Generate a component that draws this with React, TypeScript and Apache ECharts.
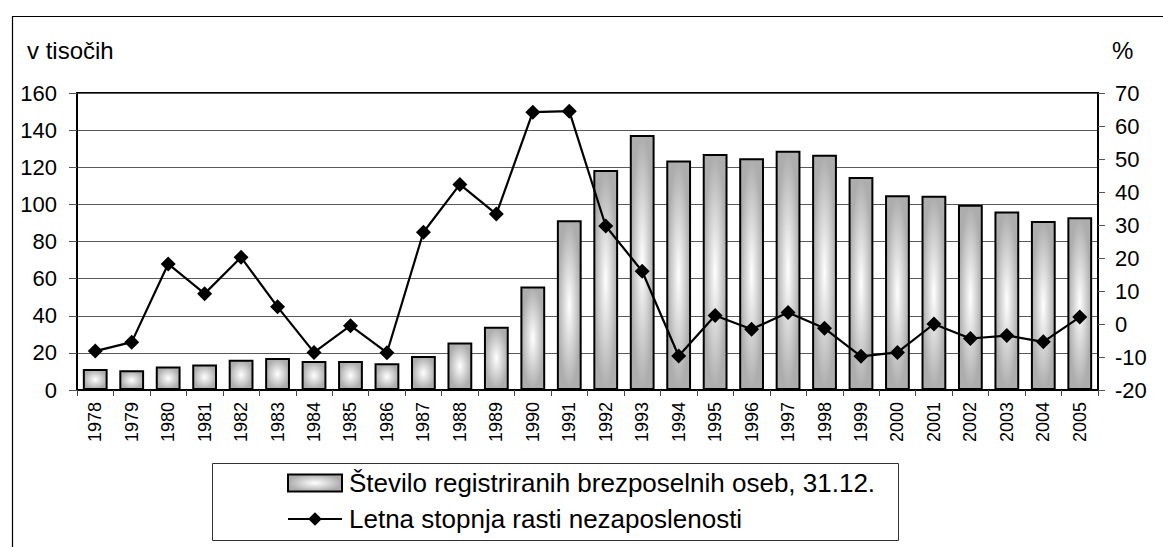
import React, { useEffect, useRef } from "react";
import * as echarts from "echarts";

const years = ["1978","1979","1980","1981","1982","1983","1984","1985","1986","1987","1988","1989","1990","1991","1992","1993","1994","1995","1996","1997","1998","1999","2000","2001","2002","2003","2004","2005"];
const unemployed = [11.3, 10.6, 12.6, 13.8, 16.3, 17.2, 15.6, 15.6, 14.4, 18.3, 25.6, 34.1, 55.7, 91.4, 118.5, 137.4, 123.7, 127.1, 124.8, 128.9, 126.8, 114.7, 104.9, 104.7, 99.8, 96.2, 91.0, 93.0];
const growthRate = [-8.2, -5.5, 18.2, 9.2, 20.2, 5.2, -8.6, -0.5, -8.7, 27.8, 42.3, 33.3, 64.2, 64.5, 29.7, 16.0, -9.7, 2.6, -1.6, 3.5, -1.3, -9.8, -8.6, 0.0, -4.4, -3.5, -5.4, 2.1];
const leftTicks = { min: 0, max: 160, interval: 20 };
const rightTicks = { min: -20, max: 70, interval: 10 };
const barName = "Število registriranih brezposelnih oseb, 31.12.";
const lineName = "Letna stopnja rasti nezaposlenosti";
const leftUnit = "v tisočih";
const rightUnit = "%";

const FONT = "'Liberation Sans', Arial, sans-serif";

export default function App() {
  const ref = useRef<HTMLDivElement>(null);
  useEffect(() => {
    if (!ref.current) return;
    const chart = echarts.init(ref.current, null, { renderer: "svg" });
    const barFill = new echarts.graphic.RadialGradient(0.5, 0.5, 0.5, [
      { offset: 0, color: "#ffffff" },
      { offset: 1, color: "#adadad" },
    ]);
    chart.setOption({
      animation: false,
      backgroundColor: "#ffffff",
      textStyle: { fontFamily: FONT },
      grid: { left: 77, right: 65, top: 93, bottom: 157, show: true, borderColor: "#000", borderWidth: 2 },
      graphic: [
        { type: "rect", left: 10, top: 14, shape: { width: 1163, height: 547 }, style: { fill: "none", stroke: "#000", lineWidth: 1.2 }, z: -1 },
        { type: "rect", left: 212, top: 463, shape: { width: 686, height: 77 }, style: { fill: "#fff", stroke: "#333", lineWidth: 1 }, z: 0 },
        { type: "text", x: 27, y: 50, style: { text: leftUnit, font: `24px ${FONT}`, fill: "#000", textVerticalAlign: "middle" } },
        { type: "text", x: 1112, y: 50, style: { text: rightUnit, font: `24px ${FONT}`, fill: "#000", textVerticalAlign: "middle" } },
      ],
      legend: {
        orient: "vertical",
        left: 287,
        top: 470,
        padding: 0,
        itemGap: 10,
        itemWidth: 54,
        itemHeight: 17,
        z: 5,
        data: [{ name: barName, icon: "rect" }, { name: lineName }],
        textStyle: { fontSize: 26, fontFamily: FONT, color: "#000", lineHeight: 26, padding: [0, 0, 0, 2] },
      },
      xAxis: {
        type: "category",
        data: years,
        boundaryGap: true,
        axisLine: { show: true, lineStyle: { color: "#000", width: 2 } },
        axisTick: { show: true, length: 6, interval: 0, lineStyle: { color: "#444" } },
        axisLabel: { rotate: 90, interval: 0, fontSize: 18, margin: 12, color: "#000", fontFamily: FONT },
      },
      yAxis: [
        {
          type: "value",
          position: "left",
          min: leftTicks.min,
          max: leftTicks.max,
          interval: leftTicks.interval,
          axisLine: { show: true, lineStyle: { color: "#000", width: 2 } },
          axisTick: { show: true, length: 8, lineStyle: { color: "#555" } },
          axisLabel: { fontSize: 22, margin: 20, color: "#000", fontFamily: FONT },
          splitLine: { show: true, lineStyle: { color: "#5a5a5a", width: 1 } },
        },
        {
          type: "value",
          position: "right",
          min: rightTicks.min,
          max: rightTicks.max,
          interval: rightTicks.interval,
          axisLine: { show: true, lineStyle: { color: "#000", width: 2 } },
          axisTick: { show: true, length: 7, lineStyle: { color: "#555" } },
          axisLabel: { fontSize: 22, margin: 17, color: "#000", fontFamily: FONT },
          splitLine: { show: false },
        },
      ],
      series: [
        {
          name: barName,
          type: "bar",
          yAxisIndex: 0,
          data: unemployed,
          barWidth: "68%",
          itemStyle: { color: barFill, borderColor: "#000", borderWidth: 2 },
        },
        {
          name: lineName,
          type: "line",
          yAxisIndex: 1,
          data: growthRate,
          symbol: "diamond",
          symbolSize: 15,
          itemStyle: { color: "#000" },
          lineStyle: { color: "#000", width: 2.2 },
          z: 3,
        },
      ],
    });
    return () => chart.dispose();
  }, []);
  return <div ref={ref} style={{ position: "absolute", left: 0, top: 0, width: 1163, height: 547 }} />;
}
